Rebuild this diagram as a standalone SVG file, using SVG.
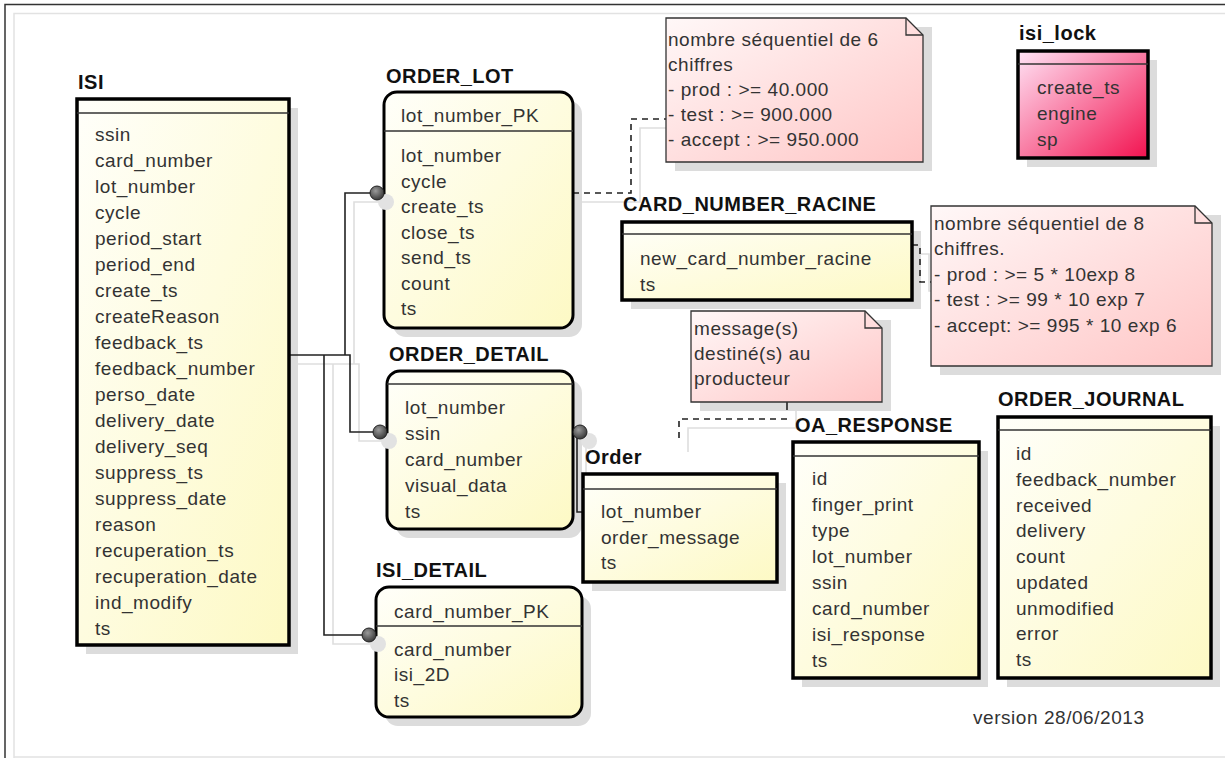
<svg xmlns="http://www.w3.org/2000/svg" width="1225" height="758" viewBox="0 0 1225 758">
<defs>
<linearGradient id="gy" x1="0" y1="0" x2="1" y2="1">
<stop offset="0" stop-color="#fffffa"/>
<stop offset="1" stop-color="#fdf9c4"/>
</linearGradient>
<linearGradient id="gp" x1="0" y1="0" x2="1" y2="1">
<stop offset="0" stop-color="#fff8f8"/>
<stop offset="1" stop-color="#ffc6c6"/>
</linearGradient>
<linearGradient id="gm" x1="0" y1="0" x2="1" y2="1">
<stop offset="0" stop-color="#ffe4f6"/>
<stop offset="1" stop-color="#f2124f"/>
</linearGradient>
<radialGradient id="gc" cx="0.4" cy="0.35" r="0.7">
<stop offset="0" stop-color="#9a9a9a"/>
<stop offset="1" stop-color="#333"/>
</radialGradient>
<style>
.t{font-family:"Liberation Sans",Arial,sans-serif;font-size:19px;letter-spacing:0.55px;fill:#333}
.h{font-family:"Liberation Sans",Arial,sans-serif;font-size:20px;font-weight:bold;letter-spacing:0.5px;fill:#111}
.box{fill:url(#gy);stroke:#000;stroke-width:3.5}
.rbox{fill:url(#gy);stroke:#000;stroke-width:3}
.sep{stroke:#333;stroke-width:1.5}
.sh{fill:#dcdcdc}
.note{fill:url(#gp);stroke:#333;stroke-width:1.3}
.fold{fill:none;stroke:#333;stroke-width:1.3}
.ln{fill:none;stroke:#222;stroke-width:1.6}
.dl{fill:none;stroke:#222;stroke-width:1.6;stroke-dasharray:6 5}
.lsh{fill:none;stroke:#dedede;stroke-width:1.6}
.dot{fill:url(#gc);stroke:#222;stroke-width:1}
.dsh{fill:#e2e2e2}
</style>
</defs>
<rect width="1225" height="758" fill="#fff"/>
<g id="frame">
<path d="M5,758 V4.5 H1225" fill="none" stroke="#333" stroke-width="1.5"/>
<path d="M14,758 V13.5 H1225" fill="none" stroke="#e2e2e2" stroke-width="1.5"/>
<path d="M14,757 H1225" fill="none" stroke="#e2e2e2" stroke-width="1.5"/>
</g>
<g id="shadows">
<rect class="sh" x="86" y="108" width="212" height="546"/>
<rect class="sh" x="393" y="101" width="189" height="236" rx="13"/>
<rect class="sh" x="396" y="380" width="186" height="158" rx="13"/>
<rect class="sh" x="385" y="596" width="206" height="130" rx="13"/>
<rect class="sh" x="631" y="231" width="290" height="78"/>
<rect class="sh" x="1027" y="60" width="130" height="107"/>
<rect class="sh" x="592" y="483" width="194" height="108"/>
<rect class="sh" x="802" y="451" width="186" height="236"/>
<rect class="sh" x="1007" y="426" width="213" height="261"/>
<rect class="sh" x="675" y="27" width="257" height="144"/>
<rect class="sh" x="940" y="215" width="281" height="160"/>
<rect class="sh" x="700" y="320" width="191" height="91"/>
</g>
<g id="connectors">
<g transform="translate(9,9)">
<path class="lsh" d="M289,355 H350 V432 H374"/>
<path class="lsh" d="M345,355 V193 H371"/>
<path class="lsh" d="M324,355 V635 H363"/>
<path class="lsh" d="M577,432 V512 H583"/>
<path class="lsh" d="M573,193 H631 V119 H666"/>
<path class="lsh" d="M912,245 H920 V282 H931"/>
<path class="lsh" d="M787,402 V419 H679 V443"/>
</g>
<path class="ln" d="M289,355 H350 V432 H374"/>
<path class="ln" d="M345,355 V193 H371"/>
<path class="ln" d="M324,355 V635 H363"/>
<path class="ln" d="M577,432 V512 H583"/>
<path class="dl" d="M573,193 H631 V119 H666"/>
<path class="dl" d="M912,245 H920 V282 H931"/>
<path class="ln" d="M787,402 V410"/>
<path class="dl" d="M787,419 H679 V443"/>
</g>
<g id="ISI">
<text class="h" x="78" y="89">ISI</text>
<rect class="box" x="77" y="99" width="212" height="546"/>
<line class="sep" x1="77" y1="113" x2="289" y2="113"/>
<text class="t" x="95" y="141">ssin</text>
<text class="t" x="95" y="167">card_number</text>
<text class="t" x="95" y="193">lot_number</text>
<text class="t" x="95" y="219">cycle</text>
<text class="t" x="95" y="245">period_start</text>
<text class="t" x="95" y="271">period_end</text>
<text class="t" x="95" y="297">create_ts</text>
<text class="t" x="95" y="323">createReason</text>
<text class="t" x="95" y="349">feedback_ts</text>
<text class="t" x="95" y="375">feedback_number</text>
<text class="t" x="95" y="401">perso_date</text>
<text class="t" x="95" y="427">delivery_date</text>
<text class="t" x="95" y="453">delivery_seq</text>
<text class="t" x="95" y="479">suppress_ts</text>
<text class="t" x="95" y="505">suppress_date</text>
<text class="t" x="95" y="531">reason</text>
<text class="t" x="95" y="557">recuperation_ts</text>
<text class="t" x="95" y="583">recuperation_date</text>
<text class="t" x="95" y="609">ind_modify</text>
<text class="t" x="95" y="635">ts</text>
</g>
<g id="ORDER_LOT">
<text class="h" x="386" y="83">ORDER_LOT</text>
<rect class="rbox" x="384" y="92" width="189" height="236" rx="13"/>
<line class="sep" x1="384" y1="131" x2="573" y2="131"/>
<text class="t" x="401" y="122">lot_number_PK</text>
<text class="t" x="401" y="162">lot_number</text>
<text class="t" x="401" y="187.5">cycle</text>
<text class="t" x="401" y="213">create_ts</text>
<text class="t" x="401" y="238.5">close_ts</text>
<text class="t" x="401" y="264">send_ts</text>
<text class="t" x="401" y="289.5">count</text>
<text class="t" x="401" y="315">ts</text>
</g>
<g id="ORDER_DETAIL">
<text class="h" x="389" y="361">ORDER_DETAIL</text>
<rect class="rbox" x="387" y="371" width="186" height="158" rx="13"/>
<line class="sep" x1="387" y1="384" x2="573" y2="384"/>
<text class="t" x="405" y="414">lot_number</text>
<text class="t" x="405" y="440">ssin</text>
<text class="t" x="405" y="466">card_number</text>
<text class="t" x="405" y="492">visual_data</text>
<text class="t" x="405" y="518">ts</text>
</g>
<g id="ISI_DETAIL">
<text class="h" x="376" y="577">ISI_DETAIL</text>
<rect class="rbox" x="376" y="587" width="206" height="130" rx="13"/>
<line class="sep" x1="376" y1="626" x2="582" y2="626"/>
<text class="t" x="394" y="618">card_number_PK</text>
<text class="t" x="394" y="656">card_number</text>
<text class="t" x="394" y="681">isi_2D</text>
<text class="t" x="394" y="707">ts</text>
</g>
<g id="CARD_NUMBER_RACINE">
<text class="h" x="623" y="211">CARD_NUMBER_RACINE</text>
<rect class="box" x="622" y="222" width="290" height="78"/>
<line class="sep" x1="622" y1="234" x2="912" y2="234"/>
<text class="t" x="640" y="265">new_card_number_racine</text>
<text class="t" x="640" y="291">ts</text>
</g>
<g id="isi_lock">
<text class="h" x="1019" y="40">isi_lock</text>
<rect x="1018" y="51" width="130" height="107" fill="url(#gm)" stroke="#000" stroke-width="3.5"/>
<line class="sep" x1="1018" y1="64" x2="1148" y2="64"/>
<text class="t" x="1037" y="94">create_ts</text>
<text class="t" x="1037" y="120">engine</text>
<text class="t" x="1037" y="146">sp</text>
</g>
<g id="Order">
<text class="h" x="585" y="464">Order</text>
<rect class="box" x="583" y="474" width="194" height="108"/>
<line class="sep" x1="583" y1="489" x2="777" y2="489"/>
<text class="t" x="601" y="518">lot_number</text>
<text class="t" x="601" y="544">order_message</text>
<text class="t" x="601" y="569">ts</text>
</g>
<g id="OA_RESPONSE">
<text class="h" x="795" y="432">OA_RESPONSE</text>
<rect class="box" x="793" y="442" width="186" height="236"/>
<line class="sep" x1="793" y1="456" x2="979" y2="456"/>
<text class="t" x="812" y="485">id</text>
<text class="t" x="812" y="511">finger_print</text>
<text class="t" x="812" y="537">type</text>
<text class="t" x="812" y="563">lot_number</text>
<text class="t" x="812" y="589">ssin</text>
<text class="t" x="812" y="615">card_number</text>
<text class="t" x="812" y="641">isi_response</text>
<text class="t" x="812" y="667">ts</text>
</g>
<g id="ORDER_JOURNAL">
<text class="h" x="998" y="406">ORDER_JOURNAL</text>
<rect class="box" x="998" y="417" width="213" height="261"/>
<line class="sep" x1="998" y1="430" x2="1211" y2="430"/>
<text class="t" x="1016" y="460">id</text>
<text class="t" x="1016" y="486">feedback_number</text>
<text class="t" x="1016" y="511.5">received</text>
<text class="t" x="1016" y="537">delivery</text>
<text class="t" x="1016" y="563">count</text>
<text class="t" x="1016" y="589">updated</text>
<text class="t" x="1016" y="614.5">unmodified</text>
<text class="t" x="1016" y="640">error</text>
<text class="t" x="1016" y="666">ts</text>
</g>
<g id="note_lot">
<path class="note" d="M666,18 H906 L923,35 V162 H666 Z"/>
<path class="fold" d="M906,18 V35 H923"/>
<text class="t" x="668" y="46">nombre séquentiel de 6</text>
<text class="t" x="668" y="71">chiffres</text>
<text class="t" x="668" y="96">- prod : &gt;= 40.000</text>
<text class="t" x="668" y="121">- test : &gt;= 900.000</text>
<text class="t" x="668" y="146">- accept : &gt;= 950.000</text>
</g>
<g id="note_racine">
<path class="note" d="M931,206 H1195 L1212,223 V366 H931 Z"/>
<path class="fold" d="M1195,206 V223 H1212"/>
<text class="t" x="934" y="230">nombre séquentiel de 8</text>
<text class="t" x="934" y="255">chiffres.</text>
<text class="t" x="934" y="281">- prod : &gt;= 5 * 10exp 8</text>
<text class="t" x="934" y="306">- test : &gt;= 99 * 10 exp 7</text>
<text class="t" x="934" y="332">- accept: &gt;= 995 * 10 exp 6</text>
</g>
<g id="note_order">
<path class="note" d="M691,311 H865 L882,328 V402 H691 Z"/>
<path class="fold" d="M865,311 V328 H882"/>
<text class="t" x="694" y="335">message(s)</text>
<text class="t" x="694" y="360">destiné(s) au</text>
<text class="t" x="694" y="385">producteur</text>
</g>
<g id="ends">
<circle class="dsh" cx="386" cy="202" r="8"/>
<circle class="dsh" cx="389" cy="441" r="8"/>
<circle class="dsh" cx="378" cy="644" r="8"/>
<circle class="dsh" cx="589" cy="441" r="8"/>
<circle class="dot" cx="377" cy="193" r="7"/>
<circle class="dot" cx="380" cy="432" r="7"/>
<circle class="dot" cx="369" cy="635" r="7"/>
<circle class="dot" cx="580" cy="432" r="7"/>
</g>
<text class="t" x="973" y="724">version 28/06/2013</text>
</svg>
